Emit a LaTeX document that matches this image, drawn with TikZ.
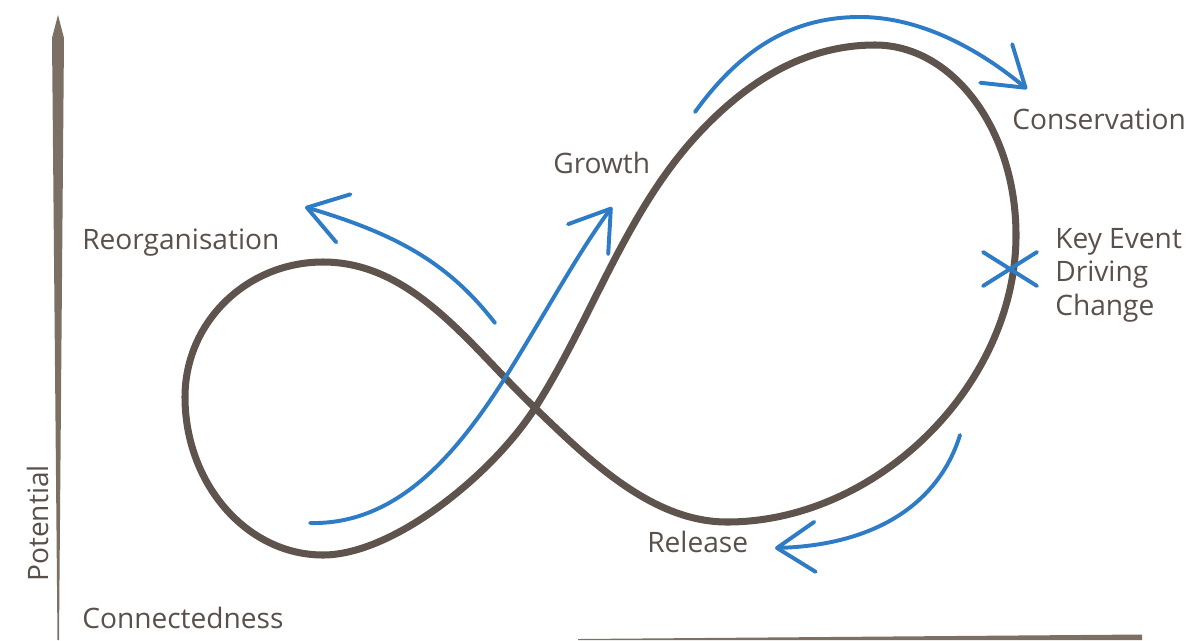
\documentclass[tikz,border=0pt]{standalone}
\usepackage{fontspec}
\setmainfont{Open Sans}
\usetikzlibrary{arrows.meta}
\definecolor{loopbrown}{HTML}{5E534D}
\definecolor{axisbrown}{HTML}{7B7063}
\definecolor{cycleblue}{HTML}{2E7CC6}
\definecolor{textbrown}{HTML}{5A504B}

\begin{document}
\begin{tikzpicture}[x=0.025cm, y=-0.025cm]
            \tikzset{loopline/.style = {draw=loopbrown, line width=5pt, line join=round}}
            \tikzset{cyclearrow/.style = {draw=cycleblue, line width=2.8pt, line cap=round,
                -{Straight Barb[length=0.95cm, width=1.25cm, round]}}}
            \tikzset{crossmark/.style = {draw=cycleblue, line width=2.8pt, line cap=round}}
            \tikzset{axisfill/.style = {fill=axisbrown}}
            \tikzset{phase/.style = {text=textbrown, font=\fontsize{20}{23.8}\selectfont, inner sep=0pt}}
            \useasboundingbox (0,0) rectangle (1195,640);
            % axes
            \fill[axisfill] (58,15) -- (64,38) -- (59,640) -- (57.5,640) -- (52,38) -- cycle;
            \fill[axisfill] (578,639) -- (1142,634.5) -- (1142,640) -- (578,640) -- cycle;
            % adaptive cycle
            \coordinate (cross) at (535,408);
            \draw[loopline] (cross) .. controls (590,322) and (623,220) .. (690,143)
                .. controls (739.5,86.75) and (800,45) .. (875,45)
                .. controls (953,45) and (1016,130) .. (1016,235)
                .. controls (1016,385) and (877,522) .. (727,522)
                .. controls (652,522) and (589,460) .. (cross)
                .. controls (470,346) and (413,262) .. (323,262)
                .. controls (247,262) and (185,322) .. (185,397)
                .. controls (185,484) and (247,555) .. (323,555)
                .. controls (393,555) and (492,475) .. cycle;
            % arrow ends
            \coordinate (growthstart) at (310,523);
            \coordinate (growthtip) at (612,207);
            \coordinate (conservstart) at (695,112);
            \coordinate (conservtip) at (1027,89);
            \coordinate (releasestart) at (960,435);
            \coordinate (releasetip) at (775,548);
            \coordinate (reorgstart) at (495,323);
            \coordinate (reorgtip) at (305,207);
            \coordinate (event) at (1010,269);
            % arrows
            \draw[cyclearrow] (growthstart) .. controls (400,525) and (460,450) .. (510,370)
                .. controls (550,305) and (580,250) .. (growthtip);
            \draw[cyclearrow] (conservstart) .. controls (740,50) and (790,18) .. (857,17)
                .. controls (920,16) and (980,50) .. (conservtip);
            \draw[cyclearrow] (releasestart) .. controls (940,500) and (880,545) .. (releasetip);
            \draw[cyclearrow] (reorgstart) .. controls (450,265) and (400,235) .. (reorgtip);
            % key event
            \draw[crossmark] (event) ++(-27,-17) -- ++(54,34);
            \draw[crossmark] (event) ++(-27,17) -- ++(54,-34);
            % labels
            \node[phase, anchor=base west] (reorg) at (82,249) {Reorganisation};
            \node[phase, anchor=base west] (growth) at (553,173) {Growth};
            \node[phase, anchor=base west] (conserv) at (1012,129) {Conservation};
            \node[phase, anchor=base west] (release) at (647,552) {Release};
            \node[phase, anchor=base west, align=left] (keyevent) at (1055,315)
                {Key Event\\Driving\\Change};
            \node[phase, anchor=base west] (connect) at (82,628) {Connectedness};
            \node[phase, anchor=base west, rotate=90] (potential) at (48,582) {Potential};
        \end{tikzpicture}
\end{document}
